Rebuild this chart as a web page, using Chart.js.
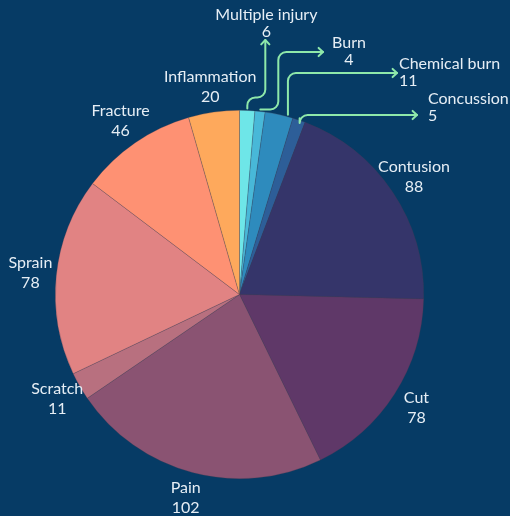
<!DOCTYPE html>
<html>
<head>
<meta charset="utf-8">
<script src="https://cdn.jsdelivr.net/npm/chart.js@4"></script>
<style>
  html, body { margin: 0; padding: 0; background: #063b65; }
  #wrap { width: 510px; height: 516px; }
</style>
</head>
<body>
<div id="wrap"><canvas id="c" width="510" height="516"></canvas></div>
<script>
const categories = ['Multiple injury', 'Burn', 'Chemical burn', 'Concussion', 'Contusion', 'Cut', 'Pain', 'Scratch', 'Sprain', 'Fracture', 'Inflammation'];
const values = [6, 4, 11, 5, 88, 78, 102, 11, 78, 46, 20];
const colors = ['#6ee6e8', '#48b8d8', '#2e8bbd', '#2d5e98', '#35356a', '#5f3868', '#8a5372', '#b8707f', '#e18383', '#fe9173', '#fea95c'];

const TEXT = '#e6eef5';
const LINE = '#8ee8aa';
const FONT = '16px Lato, "Noto Sans", sans-serif';

// callout routes for the thin slices (annotation styling, not data)
const callouts = {
  'Multiple injury': { at: 0.5, route: s => [[s.x, s.y], [s.x, s.y - 11], [s.x + 18, s.y - 11], [s.x + 18, 40]],
                       label: e => ({ x: e.x + 1, y: e.y - 25, align: 'center' }) },
  'Burn':            { at: 0.5, route: s => [[s.x, s.y], [s.x + 18, s.y], [s.x + 18, 52], [323, 52]],
                       label: e => ({ x: e.x + 26, y: e.y - 9, align: 'center' }) },
  'Chemical burn':   { at: 0.8, route: s => [[s.x, s.y], [s.x, 73], [397, 73]],
                       label: e => ({ x: e.x + 2, y: e.y - 9, align: 'left' }) },
  'Concussion':      { at: 0.5, route: s => [[s.x, s.y], [s.x, 115], [417, 115]],
                       label: e => ({ x: e.x + 11, y: e.y - 16, align: 'left' }) }
};

function drawRounded(ctx, pts, r) {
  ctx.beginPath();
  ctx.moveTo(pts[0][0], pts[0][1]);
  for (let i = 1; i < pts.length - 1; i++) {
    ctx.arcTo(pts[i][0], pts[i][1], pts[i + 1][0], pts[i + 1][1], r);
  }
  const l = pts[pts.length - 1];
  ctx.lineTo(l[0], l[1]);
  ctx.stroke();
}

function drawArrow(ctx, from, to) {
  const a = Math.atan2(to[1] - from[1], to[0] - from[0]);
  const L = 6, w = 0.75;
  ctx.beginPath();
  ctx.moveTo(to[0] - L * Math.cos(a - w), to[1] - L * Math.sin(a - w));
  ctx.lineTo(to[0], to[1]);
  ctx.lineTo(to[0] - L * Math.cos(a + w), to[1] - L * Math.sin(a + w));
  ctx.stroke();
}

function drawLabel(ctx, x, yTop, align, name, val, gap) {
  ctx.textAlign = align;
  ctx.textBaseline = 'middle';
  ctx.fillStyle = TEXT;
  ctx.fillText(name, x, yTop);
  ctx.fillText(String(val), x, yTop + gap);
}

const labelPlugin = {
  id: 'sliceLabels',
  beforeDraw(chart) {
    const ctx = chart.ctx;
    ctx.save();
    ctx.fillStyle = '#063b65';
    ctx.fillRect(0, 0, chart.width, chart.height);
    ctx.restore();
  },
  afterDraw(chart) {
    const ctx = chart.ctx;
    const meta = chart.getDatasetMeta(0);
    ctx.save();
    ctx.font = FONT;
    meta.data.forEach((arc, i) => {
      const p = arc.getProps(['x', 'y', 'startAngle', 'endAngle', 'outerRadius'], true);
      const name = categories[i];
      const val = values[i];
      const co = callouts[name];
      if (co) {
        const ang = p.startAngle + (p.endAngle - p.startAngle) * co.at;
        const s = { x: p.x + Math.cos(ang) * (p.outerRadius + 2), y: p.y + Math.sin(ang) * (p.outerRadius + 2) };
        const pts = co.route(s);
        ctx.strokeStyle = LINE;
        ctx.lineWidth = 2;
        ctx.lineCap = 'round';
        ctx.lineJoin = 'round';
        drawRounded(ctx, pts, 8);
        const e = pts[pts.length - 1];
        drawArrow(ctx, pts[pts.length - 2], e);
        const lb = co.label({ x: e[0], y: e[1] });
        drawLabel(ctx, lb.x, lb.y, lb.align, name, val, 17);
      } else {
        const mid = (p.startAngle + p.endAngle) / 2;
        const r = p.outerRadius + 26;
        const cx = p.x + Math.cos(mid) * r;
        const cy = p.y + Math.sin(mid) * r;
        drawLabel(ctx, cx, cy - 10, 'center', name, val, 20);
      }
    });
    ctx.restore();
  }
};

new Chart(document.getElementById('c'), {
  type: 'pie',
  data: {
    labels: categories,
    datasets: [{
      data: values,
      backgroundColor: colors,
      borderColor: 'rgba(70,60,80,0.45)',
      borderWidth: 0.6
    }]
  },
  options: {
    responsive: false,
    animation: false,
    layout: { padding: { left: 55, right: 86, top: 110, bottom: 37 } },
    plugins: { legend: { display: false }, tooltip: { enabled: false } }
  },
  plugins: [labelPlugin]
});
</script>
</body>
</html>
